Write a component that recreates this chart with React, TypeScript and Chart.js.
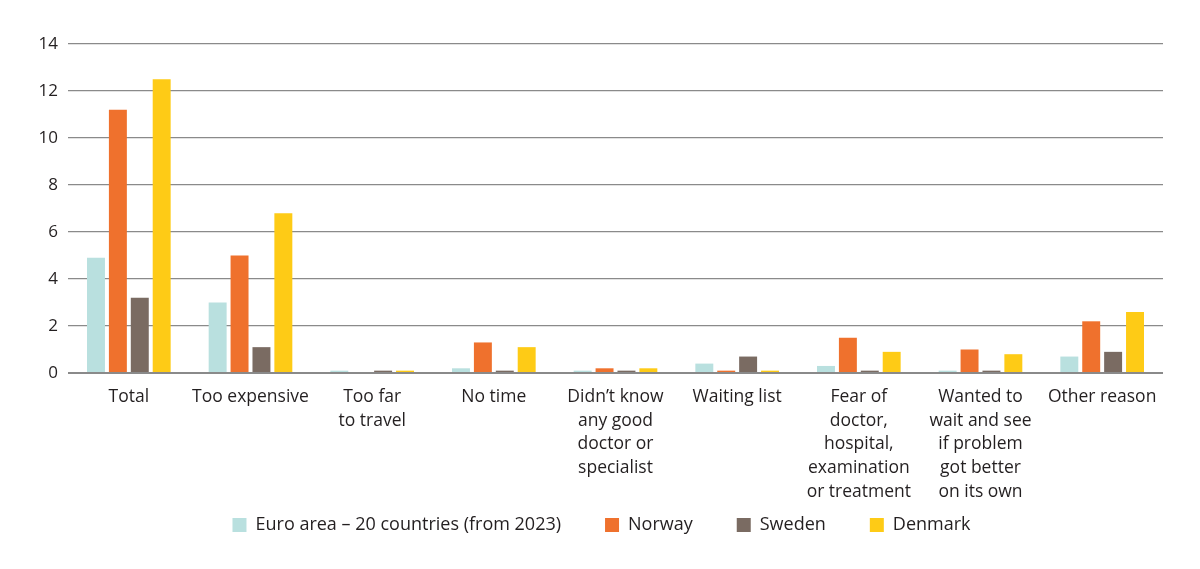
import { useEffect, useRef } from 'react';
import { Chart, registerables } from 'chart.js';

Chart.register(...registerables);

const categories: (string | string[])[] = [
  'Total',
  'Too expensive',
  ['Too far', 'to travel'],
  'No time',
  ['Didn’t know', 'any good', 'doctor or', 'specialist'],
  'Waiting list',
  ['Fear of', 'doctor,', 'hospital,', 'examination', 'or treatment'],
  ['Wanted to', 'wait and see', 'if problem', 'got better', 'on its own'],
  'Other reason',
];

const euroArea = [4.9, 3.0, 0.1, 0.2, 0.1, 0.4, 0.3, 0.1, 0.7];
const norway = [11.2, 5.0, null, 1.3, 0.2, 0.1, 1.5, 1.0, 2.2];
const sweden = [3.2, 1.1, 0.1, 0.1, 0.1, 0.7, 0.1, 0.1, 0.9];
const denmark = [12.5, 6.8, 0.1, 1.1, 0.2, 0.1, 0.9, 0.8, 2.6];

const yTicks = [0, 2, 4, 6, 8, 10, 12, 14];

const FONT = '"Open Sans", Lato, sans-serif';
const TEXT = '#231f20';

// move the legend up under the longest x labels and centre it on the page
const legendShift = {
  id: 'legendShift',
  afterLayout(chart: any) {
    const l = chart.legend;
    if (!l) return;
    l.top -= 36;
    l.bottom -= 36;
    l.left += 20;
    l.right += 20;
  },
};

export default function App() {
  const canvasRef = useRef<HTMLCanvasElement | null>(null);
  const chartRef = useRef<Chart | null>(null);

  useEffect(() => {
    document.body.style.margin = '0';
    if (!canvasRef.current) return;
    if (chartRef.current) chartRef.current.destroy();

    chartRef.current = new Chart(canvasRef.current, {
      type: 'bar',
      data: {
        labels: categories,
        datasets: [
          { label: 'Euro area – 20 countries (from 2023)', data: euroArea, backgroundColor: '#b9e0df' },
          { label: 'Norway', data: norway, backgroundColor: '#ef712d' },
          { label: 'Sweden', data: sweden, backgroundColor: '#7a6b62' },
          { label: 'Denmark', data: denmark, backgroundColor: '#fecb16' },
        ],
      },
      options: {
        animation: false,
        responsive: true,
        maintainAspectRatio: false,
        datasets: {
          bar: { categoryPercentage: 0.72, barPercentage: 0.82 },
        },
        layout: { padding: { top: 44, right: 37, left: 0, bottom: -11 } },
        plugins: {
          tooltip: { enabled: false },
          legend: {
            position: 'bottom',
            labels: {
              font: { family: FONT, size: 18 },
              color: TEXT,
              boxWidth: 14,
              boxHeight: 14,
              padding: 44,
            },
          },
        },
        scales: {
          x: {
            grid: { display: false },
            border: { display: false },
            ticks: {
              font: { family: FONT, size: 17.5, lineHeight: 1.36 },
              color: TEXT,
              padding: 4,
              maxRotation: 0,
              autoSkip: false,
            },
            afterFit: (scale: any) => {
              scale.height = 135;
            },
          },
          y: {
            min: 0,
            max: 14,
            afterBuildTicks: (scale: any) => {
              scale.ticks = yTicks.map((v) => ({ value: v }));
            },
            grid: {
              color: '#8a8a8a',
              lineWidth: (ctx: any) => (ctx.tick && ctx.tick.value === 0 ? 2 : 1.3),
              drawTicks: false,
            },
            border: { display: false },
            ticks: {
              font: { family: FONT, size: 17 },
              color: TEXT,
              padding: 10,
            },
            afterFit: (scale: any) => {
              scale.width = 68;
            },
          },
        },
      },
      plugins: [legendShift],
    });

    return () => {
      if (chartRef.current) {
        chartRef.current.destroy();
        chartRef.current = null;
      }
    };
  }, []);

  return (
    <div style={{ width: 1200, height: 569, position: 'relative' }}>
      <canvas ref={canvasRef} />
    </div>
  );
}
